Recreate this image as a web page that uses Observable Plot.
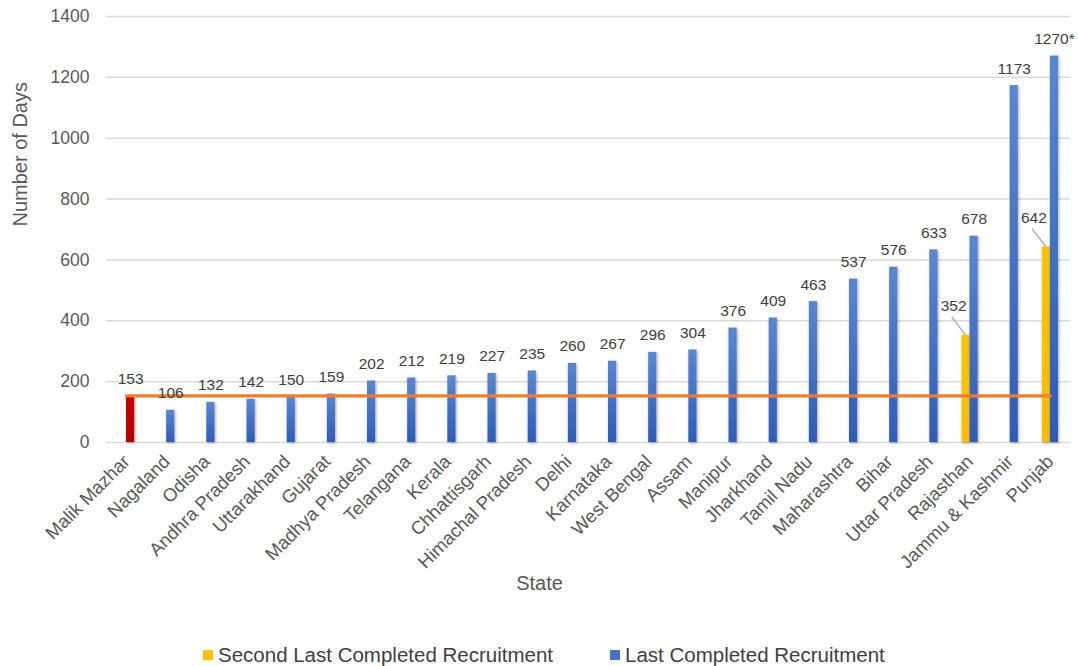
<!DOCTYPE html>
<html>
<head>
<meta charset="utf-8">
<script src="https://cdn.jsdelivr.net/npm/d3@7"></script>
<script src="https://cdn.jsdelivr.net/npm/@observablehq/plot@0.6"></script>
<style>
  body { margin: 0; background: #fff; font-family: "Liberation Sans", Arial, Helvetica, sans-serif; }
  #wrap { position: relative; width: 1078px; height: 666px; }
  #legend { position: absolute; left: 203px; top: 643px; display: flex; align-items: center; font-size: 20.5px; color: #404040; white-space: nowrap; }
  #legend .item { display: flex; align-items: center; }
  #legend .sw { width: 10px; height: 10px; margin-right: 5px; }
  #legend .item + .item { margin-left: 57px; }
</style>
</head>
<body>
<div id="wrap">
  <div id="chart"></div>
  <div id="legend"></div>
</div>
<script>
// Days taken by each state for its recruitment process
const states = [
  "Malik Mazhar", "Nagaland", "Odisha", "Andhra Pradesh", "Uttarakhand", "Gujarat",
  "Madhya Pradesh", "Telangana", "Kerala", "Chhattisgarh", "Himachal Pradesh", "Delhi",
  "Karnataka", "West Bengal", "Assam", "Manipur", "Jharkhand", "Tamil Nadu",
  "Maharashtra", "Bihar", "Uttar Pradesh", "Rajasthan", "Jammu & Kashmir", "Punjab"
];
const lastDays = [
  153, 106, 132, 142, 150, 159, 202, 212, 219, 227, 235, 260,
  267, 296, 304, 376, 409, 463, 537, 576, 633, 678, 1173, 1270
];
const secondLastDays = [
  null, null, null, null, null, null, null, null, null, null, null, null,
  null, null, null, null, null, null, null, null, null, 352, null, 642
];
const footnotedStates = ["Punjab"];
const benchmarkState = "Malik Mazhar";
const yTicks = [0, 200, 400, 600, 800, 1000, 1200, 1400];
const seriesNames = ["Second Last Completed Recruitment", "Last Completed Recruitment"];

const YELLOW = "#FFC000";
const BLUE = "#4472C4";
const ORANGE = "#ED7D31";

const rows = states.map((state, i) => ({state, last: lastDays[i], second: secondLastDays[i]}));
const secondRows = rows.filter(d => d.second != null);
const benchmark = rows.find(d => d.state === benchmarkState).last;

// each category holds two thin side-by-side bars
const IN_OUT = 20, IN_IN = 12;
const secondOffset = (IN_IN - IN_OUT) / 2; // yellow bar centre relative to band centre
const lastOffset = (IN_OUT - IN_IN) / 2;   // blue bar centre relative to band centre

function leaderLines(index, scales) {
  const g = d3.create("svg:g").attr("stroke", "#a6a6a6").attr("stroke-width", 1.3);
  const bw = scales.x.bandwidth();
  for (const d of secondRows) {
    const cx = scales.x(d.state) + bw / 2 + secondOffset;
    const cy = scales.y(d.second);
    g.append("line").attr("x1", cx).attr("y1", cy).attr("x2", cx - 14).attr("y2", cy - 18);
  }
  return g.node();
}

const chart = Plot.plot({
  width: 1078,
  height: 630,
  marginLeft: 106,
  marginRight: 8,
  marginTop: 16,
  marginBottom: 188,
  style: {fontFamily: "'Liberation Sans', Arial, Helvetica, sans-serif", color: "#595959", background: "#fff"},
  x: {type: "band", domain: states, padding: 0, round: false, label: null},
  y: {domain: [0, 1400], label: null},
  marks: [
    Plot.ruleY(yTicks, {stroke: "#d9d9d9", strokeWidth: 1.5}),
    Plot.barY(secondRows, {x: "state", y: "second", fill: "url(#yellowFill)", insetLeft: IN_IN, insetRight: IN_OUT}),
    Plot.barY(rows.filter(d => d.state !== benchmarkState), {x: "state", y: "last", fill: "url(#blueFill)", insetLeft: IN_OUT, insetRight: IN_IN}),
    Plot.barY(rows.filter(d => d.state === benchmarkState), {x: "state", y: "last", fill: "url(#redFill)", insetLeft: IN_OUT, insetRight: IN_IN}),
    Plot.lineY(rows, {x: "state", y: () => benchmark, stroke: ORANGE, strokeWidth: 3.3}),
    Plot.text(rows, {
      x: "state", y: "last",
      text: d => d.last + (footnotedStates.includes(d.state) ? "*" : ""),
      dx: lastOffset, dy: -17, fontSize: 15.5, fill: "#404040"
    }),
    leaderLines,
    Plot.text(secondRows, {
      x: "state", y: "second", text: d => String(d.second),
      dx: secondOffset - 12.5, dy: -29, fontSize: 15.5, fill: "#404040"
    }),
    Plot.axisY({ticks: yTicks, tickFormat: d => String(d), tickSize: 0, tickPadding: 17, fontSize: 17.5, label: null}),
    Plot.axisX({tickSize: 0, tickPadding: 16, tickRotate: -45, fontSize: 18.5, label: null}),
    Plot.text(["Number of Days"], {frameAnchor: "left", text: d => d, rotate: -90, dx: -86, dy: -3, fontSize: 20}),
    Plot.text(["State"], {frameAnchor: "bottom", text: d => d, dx: -49, dy: 147, fontSize: 20})
  ]
});

// gradient fills and soft shadow for the bars
const svg = d3.select(chart);
const defs = svg.insert("defs", ":first-child");
function vGrad(id, top, bottom) {
  const lg = defs.append("linearGradient").attr("id", id).attr("x1", 0).attr("y1", 0).attr("x2", 0).attr("y2", 1);
  lg.append("stop").attr("offset", "0%").attr("stop-color", top);
  lg.append("stop").attr("offset", "100%").attr("stop-color", bottom);
}
vGrad("blueFill", "#5A86D1", "#2D5CB8");
vGrad("redFill", "#C80000", "#B20000");
vGrad("yellowFill", "#FFC300", "#FFBC00");
defs.append("filter").attr("id", "barShadow").attr("x", "-50%").attr("y", "-10%").attr("width", "200%").attr("height", "120%")
  .append("feDropShadow").attr("dx", 1).attr("dy", 1).attr("stdDeviation", 1.6)
  .attr("flood-color", "#000").attr("flood-opacity", 0.35);
svg.selectAll('g[aria-label="bar"]').attr("filter", "url(#barShadow)");

document.getElementById("chart").appendChild(chart);

// legend below the chart
const legend = d3.select("#legend");
[[seriesNames[0], YELLOW], [seriesNames[1], BLUE]].forEach(([name, color]) => {
  const item = legend.append("div").attr("class", "item");
  item.append("div").attr("class", "sw").style("background", color);
  item.append("span").text(name);
});
</script>
</body>
</html>
